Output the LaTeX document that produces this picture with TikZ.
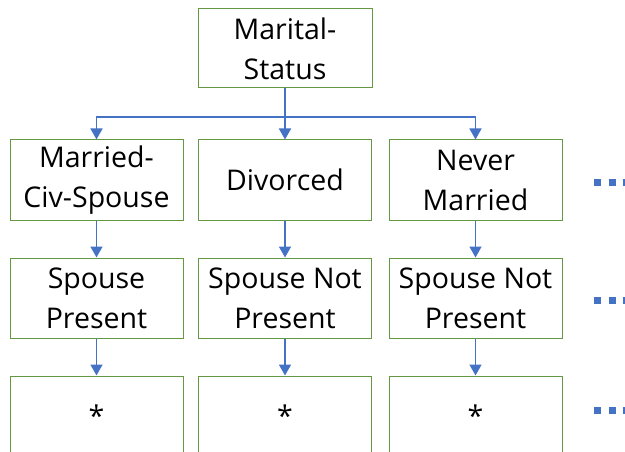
\documentclass[tikz,border=0pt]{standalone}
\usepackage{fontspec}
\setmainfont{Open Sans}
\usetikzlibrary{arrows.meta}
\definecolor{boxgreen}{RGB}{100,152,66}
\definecolor{arrblue}{RGB}{68,114,196}
\begin{document}
\begin{tikzpicture}[x=1pt,y=-1pt,
  box/.style={draw=boxgreen, line width=1pt, minimum width=173pt, minimum height=80pt, inner sep=0pt, align=center, font=\fontsize{28.5}{40}\selectfont},
  conn/.style={draw=arrblue, line width=1.8pt, -{Triangle[width=12pt,length=11pt]}},
  dots/.style={draw=arrblue, line width=7pt, dash pattern=on 7pt off 7.5pt}]
\useasboundingbox (0,0) rectangle (625,452);
\clip (0,0) rectangle (625,452);
\node[box, minimum width=174pt, minimum height=79pt] (top) at (285,48.5) {Marital-\\Status};
\node[box] (a1) at (96.5,180) {Married-\\Civ-Spouse};
\node[box] (a2) at (285,180) {Divorced};
\node[box] (a3) at (475.5,180) {Never\\Married};
\node[box] (b1) at (96.5,298) {Spouse\\Present};
\node[box] (b2) at (285,298) {Spouse Not\\Present};
\node[box] (b3) at (475.5,298) {Spouse Not\\Present};
\node[box] (c1) at (96.5,416) {*};
\node[box] (c2) at (285,416) {*};
\node[box] (c3) at (475.5,416) {*};
\coordinate (bus) at (285,117);
\draw[conn] (top.south) -- (bus) -| (a1.north);
\draw[conn] (top.south) -- (bus) -- (a2.north);
\draw[conn] (top.south) -- (bus) -| (a3.north);
\draw[conn] (a1) -- (b1);
\draw[conn] (a2) -- (b2);
\draw[conn] (a3) -- (b3);
\draw[conn] (b1) -- (c1);
\draw[conn] (b2) -- (c2);
\draw[conn] (b3) -- (c3);
\coordinate (d1) at (594,182.5);
\coordinate (d2) at (594,300.5);
\coordinate (d3) at (594,410);
\draw[dots] (d1) -- ++(40,0);
\draw[dots] (d2) -- ++(40,0);
\draw[dots] (d3) -- ++(40,0);
\end{tikzpicture}
\end{document}
